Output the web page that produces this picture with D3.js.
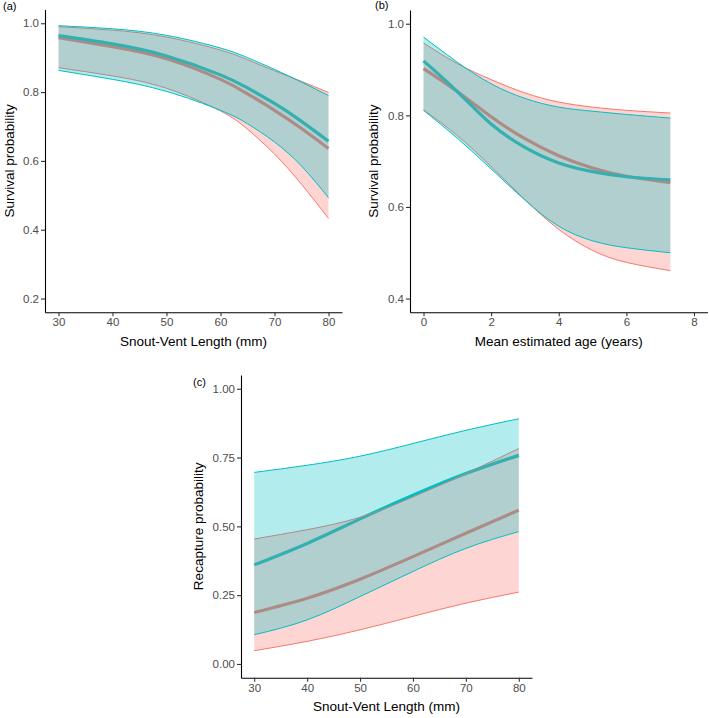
<!DOCTYPE html>
<html>
<head>
<meta charset="utf-8">
<script src="https://cdn.jsdelivr.net/npm/d3@7"></script>
<style>
  html, body { margin: 0; padding: 0; background: #ffffff; }
  svg { display: block; font-family: "Liberation Sans", Arial, sans-serif; }
</style>
</head>
<body>
<svg id="chart" width="709" height="718"></svg>
<script>
// ---------- Data ----------
// Panel (a): survival vs snout-vent length
const svlA = [30, 40, 50, 60, 65, 70, 75, 80];
const aRedMean  = [0.958, 0.932, 0.897, 0.837, 0.795, 0.747, 0.694, 0.636];
const aRedLow   = [0.871, 0.847, 0.811, 0.745, 0.692, 0.620, 0.532, 0.433];
const aRedUp    = [0.990, 0.980, 0.960, 0.922, 0.894, 0.862, 0.831, 0.799];
const aCyanMean = [0.964, 0.940, 0.905, 0.850, 0.812, 0.767, 0.715, 0.657];
const aCyanLow  = [0.863, 0.837, 0.802, 0.747, 0.708, 0.655, 0.585, 0.493];
const aCyanUp   = [0.993, 0.984, 0.965, 0.928, 0.900, 0.866, 0.829, 0.790];

// Panel (b): survival vs mean estimated age
const ageB = [0, 1, 2, 3, 4, 5, 6, 7.3];
const bRedMean  = [0.902, 0.852, 0.797, 0.749, 0.712, 0.685, 0.667, 0.653];
const bRedLow   = [0.812, 0.756, 0.688, 0.616, 0.551, 0.505, 0.479, 0.461];
const bRedUp    = [0.958, 0.913, 0.878, 0.849, 0.829, 0.818, 0.811, 0.805];
const bCyanMean = [0.919, 0.852, 0.781, 0.730, 0.696, 0.677, 0.666, 0.659];
const bCyanLow  = [0.811, 0.750, 0.683, 0.615, 0.558, 0.526, 0.511, 0.500];
const bCyanUp   = [0.971, 0.916, 0.869, 0.837, 0.818, 0.809, 0.802, 0.794];

// Panel (c): recapture vs snout-vent length
const svlC = [30, 40, 50, 60, 70, 80];
const cRedMean  = [0.187, 0.239, 0.308, 0.390, 0.475, 0.559];
const cRedLow   = [0.048, 0.082, 0.124, 0.173, 0.221, 0.261];
const cRedUp    = [0.454, 0.488, 0.533, 0.607, 0.692, 0.783];
const cCyanMean = [0.360, 0.438, 0.527, 0.613, 0.692, 0.758];
const cCyanLow  = [0.106, 0.160, 0.245, 0.336, 0.420, 0.481];
const cCyanUp   = [0.696, 0.722, 0.755, 0.801, 0.849, 0.891];

// Tick values / labels
const ticksA_x = [30, 40, 50, 60, 70, 80];
const ticksA_y = [0.2, 0.4, 0.6, 0.8, 1.0];
const ticksB_x = [0, 2, 4, 6, 8];
const ticksB_y = [0.4, 0.6, 0.8, 1.0];
const ticksC_x = [30, 40, 50, 60, 70, 80];
const ticksC_y = [0.00, 0.25, 0.50, 0.75, 1.00];

const RED = "#F8766D", CYAN = "#00BFC4";

const svg = d3.select("#chart");

function drawPanel(cfg) {
  const g = svg.append("g");
  const x = d3.scaleLinear().domain(cfg.xDomain).range([cfg.left, cfg.right]);
  const y = d3.scaleLinear().domain(cfg.yDomain).range([cfg.bottom, cfg.top]);
  const curve = d3.curveNatural;

  const mk = (xs, lo, hi) => xs.map((v, i) => ({x: v, lo: lo[i], hi: hi[i]}));
  const area = d3.area().curve(curve)
    .x(d => x(d.x)).y0(d => y(d.lo)).y1(d => y(d.hi));
  const lineLo = d3.line().curve(curve).x(d => x(d.x)).y(d => y(d.lo));
  const lineHi = d3.line().curve(curve).x(d => x(d.x)).y(d => y(d.hi));
  const mline = d3.line().curve(curve).x(d => x(d[0])).y(d => y(d[1]));

  // mean lines first (they sit under the ribbons)
  g.append("path").datum(cfg.xs.map((v, i) => [v, cfg.redMean[i]]))
    .attr("d", mline).attr("fill", "none").attr("stroke", RED).attr("stroke-width", 3.2);
  g.append("path").datum(cfg.xs.map((v, i) => [v, cfg.cyanMean[i]]))
    .attr("d", mline).attr("fill", "none").attr("stroke", CYAN).attr("stroke-width", 3.2);

  // ribbons
  [[cfg.redLow, cfg.redUp, RED], [cfg.cyanLow, cfg.cyanUp, CYAN]].forEach(([lo, hi, col]) => {
    const data = mk(cfg.xs, lo, hi);
    g.append("path").datum(data).attr("d", area)
      .attr("fill", col).attr("fill-opacity", 0.3).attr("stroke", "none");
    g.append("path").datum(data).attr("d", lineLo)
      .attr("fill", "none").attr("stroke", col).attr("stroke-width", 1);
    g.append("path").datum(data).attr("d", lineHi)
      .attr("fill", "none").attr("stroke", col).attr("stroke-width", 1);
  });

  // axes
  const xAxis = d3.axisBottom(x).tickValues(cfg.xTicks).tickFormat(cfg.xFmt)
    .tickSizeInner(4).tickSizeOuter(0).tickPadding(2);
  const yAxis = d3.axisLeft(y).tickValues(cfg.yTicks).tickFormat(cfg.yFmt)
    .tickSizeInner(4).tickSizeOuter(0).tickPadding(2);
  const gx = g.append("g").attr("transform", `translate(0,${cfg.bottom})`).call(xAxis);
  const gy = g.append("g").attr("transform", `translate(${cfg.left},0)`).call(yAxis);
  [gx, gy].forEach(ax => {
    ax.select(".domain").attr("stroke", "#000").attr("stroke-width", 1.1);
    ax.selectAll(".tick line").attr("stroke", "#333").attr("stroke-width", 1.1);
    ax.selectAll(".tick text").attr("fill", "#4D4D4D").style("font-size", "11.5px")
      .style("font-family", "'Liberation Sans', Arial, sans-serif");
  });

  // titles
  g.append("text").attr("x", (cfg.left + cfg.right) / 2).attr("y", cfg.bottom + 29)
    .attr("text-anchor", "middle").attr("dominant-baseline", "central")
    .style("font-size", "13.5px").attr("fill", "#000").text(cfg.xTitle);
  g.append("text")
    .attr("transform", `translate(${cfg.yTitleX},${(cfg.top + cfg.bottom) / 2}) rotate(-90)`)
    .attr("text-anchor", "middle").attr("dominant-baseline", "central")
    .style("font-size", "13.5px").attr("fill", "#000").text(cfg.yTitle);
  g.append("text").attr("x", cfg.tagX).attr("y", cfg.tagY)
    .attr("dominant-baseline", "central")
    .style("font-size", "11px").attr("fill", "#000").text(cfg.tag);
}

drawPanel({
  xs: svlA, redMean: aRedMean, redLow: aRedLow, redUp: aRedUp,
  cyanMean: aCyanMean, cyanLow: aCyanLow, cyanUp: aCyanUp,
  xDomain: [27.5, 82.5], yDomain: [0.16, 1.04],
  left: 45, right: 342, top: 9.5, bottom: 312.3,
  xTicks: ticksA_x, yTicks: ticksA_y, xFmt: d3.format("d"), yFmt: d3.format(".1f"),
  xTitle: "Snout-Vent Length (mm)", yTitle: "Survival probability", yTitleX: 9,
  tag: "(a)", tagX: 3, tagY: 6
});

drawPanel({
  xs: ageB, redMean: bRedMean, redLow: bRedLow, redUp: bRedUp,
  cyanMean: bCyanMean, cyanLow: bCyanLow, cyanUp: bCyanUp,
  xDomain: [-0.4, 8.4], yDomain: [0.37, 1.03],
  left: 410, right: 707.5, top: 10, bottom: 312.3,
  xTicks: ticksB_x, yTicks: ticksB_y, xFmt: d3.format("d"), yFmt: d3.format(".1f"),
  xTitle: "Mean estimated age (years)", yTitle: "Survival probability", yTitleX: 373,
  tag: "(b)", tagX: 375, tagY: 5
});

drawPanel({
  xs: svlC, redMean: cRedMean, redLow: cRedLow, redUp: cRedUp,
  cyanMean: cCyanMean, cyanLow: cCyanLow, cyanUp: cCyanUp,
  xDomain: [27.5, 82.5], yDomain: [-0.05, 1.05],
  left: 241, right: 532, top: 375, bottom: 677.7,
  xTicks: ticksC_x, yTicks: ticksC_y, xFmt: d3.format("d"), yFmt: d3.format(".2f"),
  xTitle: "Snout-Vent Length (mm)", yTitle: "Recapture probability", yTitleX: 198,
  tag: "(c)", tagX: 193, tagY: 382
});
</script>
</body>
</html>
